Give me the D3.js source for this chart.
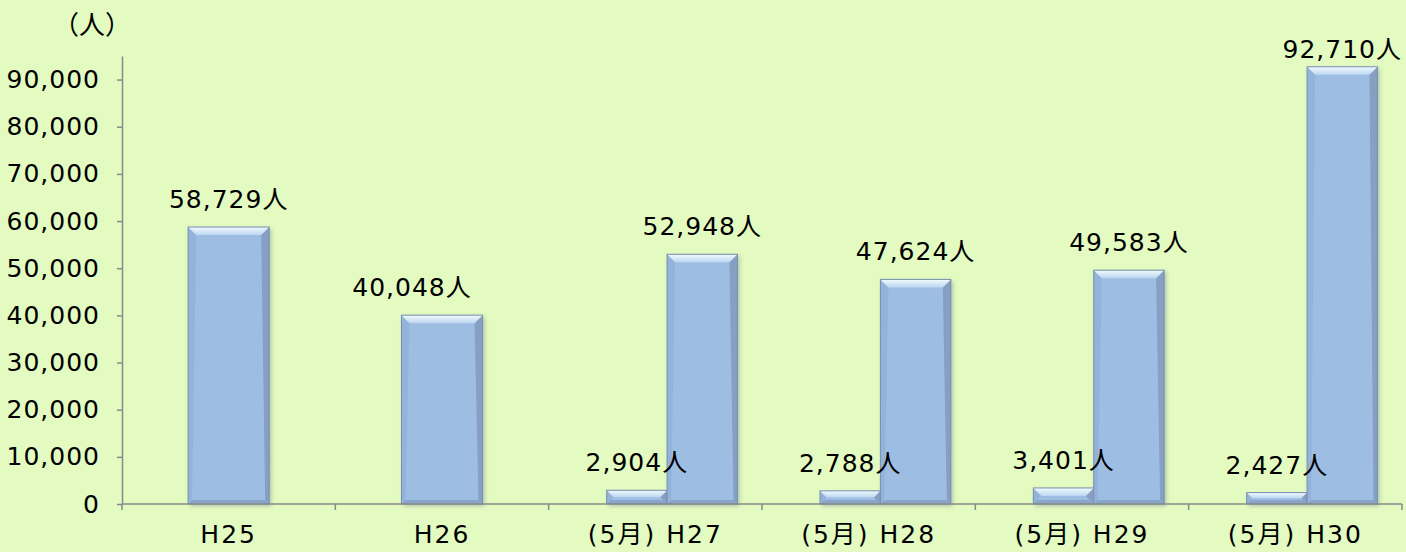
<!DOCTYPE html>
<html>
<head>
<meta charset="utf-8">
<script src="https://cdn.jsdelivr.net/npm/d3@7"></script>
<style>
  html, body { margin: 0; padding: 0; background: #e3fac0; }
  svg { display: block; }
  text { font-family: "DejaVu Sans", "Noto Sans CJK JP", sans-serif; fill: #000; }
</style>
</head>
<body>
<svg id="chart" width="1406" height="552"></svg>
<script>
// categories along the x axis
const categories = ["H25", "H26", "(5月) H27", "(5月) H28", "(5月) H29", "(5月) H30"];
// May figures (small bars), null where there is none
const mayValues = [null, null, 2904, 2788, 3401, 2427];
// yearly totals (big bars)
const yearValues = [58729, 40048, 52948, 47624, 49583, 92710];
const yTicks = [0, 10000, 20000, 30000, 40000, 50000, 60000, 70000, 80000, 90000];
const unitLabel = "（人）";

const svg = d3.select("#chart");
const width = +svg.attr("width"), height = +svg.attr("height");
const margin = {top: 56, right: 4, bottom: 48, left: 122};
const FONT = "25px", LS = "1px";

svg.append("rect").attr("width", width).attr("height", height).attr("fill", "#e3fac0");

const x = d3.scaleBand().domain(categories).range([margin.left, width - margin.right]);
const y = d3.scaleLinear().domain([0, 95000]).range([height - margin.bottom, margin.top]);
const fmt = d3.format(",");
const bw = x.bandwidth();

// gradients + shadow
const defs = svg.append("defs");
const topGrad = defs.append("linearGradient").attr("id", "topGrad")
  .attr("x1", 0).attr("y1", 0).attr("x2", 0).attr("y2", 1);
topGrad.append("stop").attr("offset", "0%").attr("stop-color", "#f2fbff");
topGrad.append("stop").attr("offset", "100%").attr("stop-color", "#bcd6f0");
const shadow = defs.append("filter").attr("id", "shadow")
  .attr("x", "-20%").attr("y", "-20%").attr("width", "140%").attr("height", "140%");
shadow.append("feGaussianBlur").attr("stdDeviation", 2);

// build bar list (positions from band scale)
const bars = [];
categories.forEach((c, i) => {
  const cx = x(c) + bw / 2;
  if (mayValues[i] == null) {
    bars.push({x0: cx - 0.19 * bw, x1: cx + 0.19 * bw, v: yearValues[i], big: true, i});
  } else {
    bars.push({x0: cx - 0.228 * bw, x1: cx + 0.055 * bw, v: mayValues[i], big: false, i});
    bars.push({x0: cx + 0.055 * bw, x1: cx + 0.385 * bw, v: yearValues[i], big: true, i});
  }
});

const gBars = svg.append("g");
const y0 = y(0);

gBars.selectAll("rect.shadow").data(bars).join("rect")
  .attr("class", "shadow")
  .attr("x", d => d.x0 + 2).attr("y", d => y(d.v) + 2)
  .attr("width", d => d.x1 - d.x0).attr("height", d => y0 - y(d.v))
  .attr("fill", "#6a7d8f").attr("opacity", 0.45).attr("filter", "url(#shadow)");

const bar = gBars.selectAll("g.bar").data(bars).join("g").attr("class", "bar");

bar.append("rect")
  .attr("x", d => d.x0).attr("y", d => y(d.v))
  .attr("width", d => d.x1 - d.x0).attr("height", d => y0 - y(d.v))
  .attr("fill", "#9ebde3");

// bevel faces
function face(d, which) {
  const a = d.x0, b = d.x1, t = y(d.v), bt = y0;
  const h = bt - t;
  const bv = Math.min(8, h / 2), sv = Math.min(4, h / 2);
  if (which === "top") return [[a, t], [b, t], [b - bv, t + bv], [a + bv, t + bv]];
  if (which === "left") return [[a, t], [a + bv, t + bv], [a + sv, bt - sv], [a, bt]];
  if (which === "right") return [[b, t], [b - bv, t + bv], [b - sv, bt - sv], [b, bt]];
  return [[a, bt], [a + sv, bt - sv], [b - sv, bt - sv], [b, bt]];
}
const faceFill = {top: "url(#topGrad)", left: "#94b3da", right: "#869fc2", bottom: "#8aa5cb"};
["left", "right", "bottom", "top"].forEach(f => {
  bar.append("polygon")
    .attr("points", d => face(d, f).map(p => p.join(",")).join(" "))
    .attr("fill", faceFill[f]);
});
bar.append("rect")
  .attr("x", d => d.x0).attr("y", d => y(d.v))
  .attr("width", d => d.x1 - d.x0).attr("height", d => y0 - y(d.v))
  .attr("fill", "none").attr("stroke", "#7890ae").attr("stroke-width", 1);

// y axis
const yAxis = svg.append("g")
  .attr("transform", `translate(${margin.left},0)`)
  .call(d3.axisLeft(y).tickValues(yTicks).tickFormat(fmt).tickSizeInner(5).tickSizeOuter(0).tickPadding(17));
yAxis.select(".domain").attr("stroke", "#8a8a8a").attr("stroke-width", 1.5);
yAxis.selectAll(".tick line").attr("stroke", "#8a8a8a").attr("stroke-width", 1.5);
yAxis.selectAll(".tick text")
  .style("font-family", '"DejaVu Sans", "Noto Sans CJK JP", sans-serif')
  .style("font-size", FONT).style("letter-spacing", LS).attr("fill", "#000");

// x axis: line at zero, ticks on band edges, labels at band centres
const xAxis = svg.append("g");
xAxis.append("line")
  .attr("x1", margin.left).attr("x2", width - margin.right)
  .attr("y1", y0).attr("y2", y0)
  .attr("stroke", "#8a8a8a").attr("stroke-width", 1.5);
const edges = categories.map(c => x(c)).concat([x.range()[1]]);
xAxis.selectAll("line.tick").data(edges).join("line")
  .attr("class", "tick")
  .attr("x1", d => d).attr("x2", d => d)
  .attr("y1", y0).attr("y2", y0 + 6)
  .attr("stroke", "#8a8a8a").attr("stroke-width", 1.5);
xAxis.selectAll("text").data(categories).join("text")
  .attr("x", d => x(d) + bw / 2).attr("y", y0 + 39)
  .attr("text-anchor", "middle")
  .style("font-size", FONT).style("letter-spacing", "2px")
  .text(d => d);

// value labels
svg.append("g").selectAll("text").data(bars).join("text")
  .attr("x", d => (d.x0 + d.x1) / 2 + (d.i === 1 ? -30 : 0)) // H26 label sits a bit left in the original
  .attr("y", d => Math.max(y(d.v) - 19, 58))
  .attr("text-anchor", "middle")
  .style("font-size", FONT).style("letter-spacing", LS)
  .text(d => fmt(d.v) + "人");

// unit label
svg.append("text")
  .attr("x", 92).attr("y", 34)
  .attr("text-anchor", "middle")
  .style("font-family", '"Noto Sans CJK JP", sans-serif')
  .style("font-size", "26px")
  .text(unitLabel);
</script>
</body>
</html>
